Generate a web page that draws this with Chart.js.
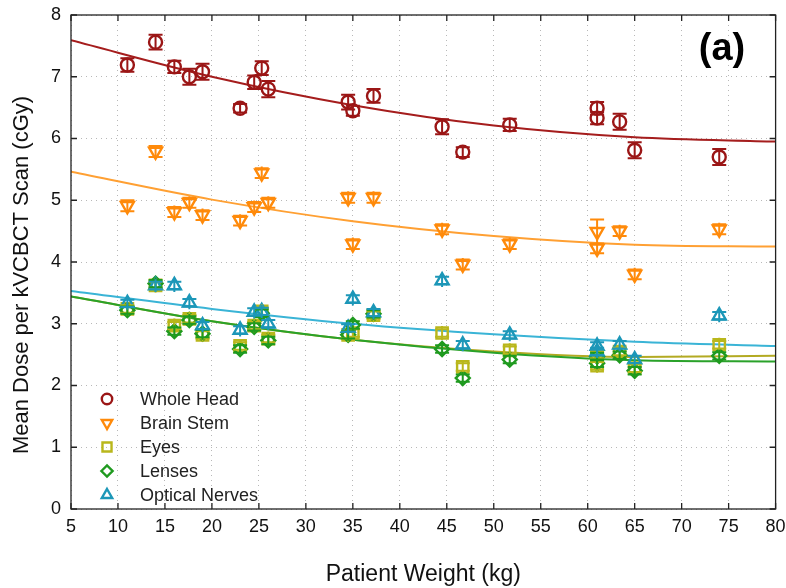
<!DOCTYPE html>
<html>
<head>
<meta charset="utf-8">
<script src="https://cdn.jsdelivr.net/npm/chart.js@4.4.1/dist/chart.umd.min.js"></script>
<style>
  html, body { margin: 0; padding: 0; background: #fff; }
  #wrap { width: 786px; height: 588px; }
</style>
</head>
<body>
<div id="wrap"><canvas id="myChart" width="786" height="588"></canvas></div>
<script>
// patient weights (kg), one per scan
const weights = [11, 14, 16, 17.6, 19, 23, 24.5, 25.3, 26, 34.5, 35, 37.2, 44.5, 46.7, 51.7, 61, 61, 63.4, 65, 74];

// mean dose per scan (cGy)
const wholeHead = [7.19, 7.56, 7.16, 7.00, 7.08, 6.49, 6.91, 7.14, 6.80, 6.59, 6.45, 6.69, 6.19, 5.78, 6.22, 6.49, 6.33, 6.27, 5.81, 5.70];
const brainStem = [4.91, 5.79, 4.81, 4.96, 4.76, 4.67, 4.89, 5.44, 4.96, 5.04, 4.29, 5.04, 4.53, 3.96, 4.29, 4.49, 4.22, 4.50, 3.80, 4.53];
const eyes = [3.24, 3.62, 2.97, 3.08, 2.82, 2.64, 2.97, 3.20, 2.76, 2.82, 2.85, 3.14, 2.85, 2.30, 2.57, 2.50, 2.32, 2.55, 2.28, 2.66];
const lenses = [3.22, 3.65, 2.88, 3.06, 2.84, 2.59, 2.95, 3.17, 2.73, 2.82, 2.98, 3.16, 2.59, 2.12, 2.42, 2.47, 2.36, 2.49, 2.24, 2.48];
const opticalNerves = [3.33, 3.62, 3.62, 3.34, 2.97, 2.90, 3.19, 3.20, 3.00, 2.93, 3.40, 3.18, 3.70, 2.66, 2.82, 2.64, 2.55, 2.66, 2.42, 3.13];

// error bar half-heights
const wholeHeadErr = [0.11, 0.12, 0.10, 0.13, 0.13, 0.07, 0.11, 0.11, 0.13, 0.12, 0.08, 0.11, 0.12, 0.08, 0.10, 0.10, 0.10, 0.13, 0.13, 0.13];
const brainStemErr = [0.09, 0.09, 0.08, 0.08, 0.08, 0.08, 0.08, 0.08, 0.08, 0.08, 0.08, 0.08, 0.08, 0.08, 0.08, 0.20, 0.08, 0.08, 0.08, 0.08];
const eyesErr = [0.06, 0.06, 0.06, 0.06, 0.06, 0.06, 0.06, 0.06, 0.06, 0.06, 0.06, 0.06, 0.06, 0.06, 0.06, 0.06, 0.06, 0.06, 0.06, 0.06];
const lensesErr = [0.06, 0.06, 0.06, 0.06, 0.06, 0.06, 0.06, 0.06, 0.06, 0.06, 0.06, 0.06, 0.06, 0.06, 0.06, 0.06, 0.06, 0.06, 0.06, 0.06];
const opticalErr = [0.06, 0.06, 0.06, 0.06, 0.06, 0.06, 0.06, 0.06, 0.06, 0.06, 0.06, 0.06, 0.06, 0.06, 0.06, 0.06, 0.06, 0.06, 0.06, 0.06];

// trend curves
const fitX = [5, 20, 35, 50, 65, 80];
const wholeHeadFit = [7.59, 7.00, 6.54, 6.21, 6.02, 5.95];
const brainStemFit = [5.46, 5.01, 4.66, 4.42, 4.28, 4.25];
const eyesFit = [3.44, 3.04, 2.74, 2.55, 2.46, 2.48];
const lensesFit = [3.44, 3.04, 2.74, 2.53, 2.41, 2.39];
const opticalFit = [3.53, 3.24, 3.00, 2.83, 2.71, 2.64];

const xTicks = [5, 10, 15, 20, 25, 30, 35, 40, 45, 50, 55, 60, 65, 70, 75, 80];
const yTicks = [0, 1, 2, 3, 4, 5, 6, 7, 8];

const series = [
  { label: "Whole Head", values: wholeHead, err: wholeHeadErr, fit: wholeHeadFit, color: "#9b1616", line: "#a51d1d", style: "circle", rot: 0, r: 6.5 },
  { label: "Brain Stem", values: brainStem, err: brainStemErr, fit: brainStemFit, color: "#ff8a0a", line: "#ffa033", style: "triangle", rot: 180, r: 7.5 },
  { label: "Eyes", values: eyes, err: eyesErr, fit: eyesFit, color: "#b9b71c", line: "#b3aa22", style: "rect", rot: 0, r: 8 },
  { label: "Lenses", values: lenses, err: lensesErr, fit: lensesFit, color: "#1f9a1f", line: "#2aa22a", style: "rectRot", rot: 0, r: 7 },
  { label: "Optical Nerves", values: opticalNerves, err: opticalErr, fit: opticalFit, color: "#1c97b8", line: "#3ab4d6", style: "triangle", rot: 0, r: 7.5 }
];

const datasets = [];
series.forEach((s, i) => {
  datasets.push({
    label: s.label,
    data: weights.map((w, j) => ({ x: w, y: s.values[j] })),
    errors: s.err,
    pointStyle: s.style,
    rotation: s.rot,
    pointRadius: s.r,
    pointHoverRadius: s.r,
    pointBorderWidth: 2.4,
    borderColor: s.color,
    backgroundColor: "rgba(0,0,0,0)",
    showLine: false,
    order: 10 - i
  });
});
series.forEach((s, i) => {
  datasets.push({
    label: s.label + " fit",
    data: fitX.map((w, j) => ({ x: w, y: s.fit[j] })),
    showLine: true,
    pointRadius: 0,
    borderColor: s.line,
    borderWidth: 2,
    cubicInterpolationMode: "monotone",
    fill: false,
    order: 20 - i
  });
});

// vertical error bars with caps
const errorBars = {
  id: "errorBars",
  afterDatasetsDraw(chart) {
    const { ctx, scales } = chart;
    chart.data.datasets.forEach((ds, i) => {
      if (!ds.errors) return;
      ctx.save();
      ctx.strokeStyle = ds.borderColor;
      ctx.lineWidth = 2;
      ds.data.forEach((p, j) => {
        const x = scales.x.getPixelForValue(p.x);
        const y1 = scales.y.getPixelForValue(p.y - ds.errors[j]);
        const y2 = scales.y.getPixelForValue(p.y + ds.errors[j]);
        const y0 = scales.y.getPixelForValue(p.y);
        ctx.beginPath();
        ctx.moveTo(x, y0 - ds.pointRadius + 1);
        ctx.lineTo(x, y0 + ds.pointRadius - 1);
        ctx.moveTo(x, y1); ctx.lineTo(x, y2);
        ctx.moveTo(x - 7, y1); ctx.lineTo(x + 7, y1);
        ctx.moveTo(x - 7, y2); ctx.lineTo(x + 7, y2);
        ctx.stroke();
      });
      ctx.restore();
    });
  }
};

// box, inner ticks, legend, titles
const decorations = {
  id: "decorations",
  afterDraw(chart) {
    const { ctx, chartArea: a, scales } = chart;
    ctx.save();
    ctx.strokeStyle = "#222";
    ctx.lineWidth = 1.3;
    ctx.strokeRect(a.left, a.top, a.right - a.left, a.bottom - a.top);
    ctx.beginPath();
    xTicks.forEach(t => {
      const x = scales.x.getPixelForValue(t);
      ctx.moveTo(x, a.bottom); ctx.lineTo(x, a.bottom - 6);
      ctx.moveTo(x, a.top); ctx.lineTo(x, a.top + 6);
    });
    yTicks.forEach(t => {
      const y = scales.y.getPixelForValue(t);
      ctx.moveTo(a.left, y); ctx.lineTo(a.left + 6, y);
      ctx.moveTo(a.right, y); ctx.lineTo(a.right - 6, y);
    });
    ctx.stroke();

    // legend
    ctx.font = "18px 'Liberation Sans', Arial, sans-serif";
    ctx.textBaseline = "middle";
    ctx.textAlign = "left";
    series.forEach((s, i) => {
      const y = a.bottom - 110 + i * 24;
      ctx.strokeStyle = s.color;
      ctx.fillStyle = "rgba(0,0,0,0)";
      ctx.lineWidth = 2.4;
      Chart.helpers.drawPoint(ctx, { pointStyle: s.style, rotation: s.rot, radius: s.r * 0.8, borderWidth: 2.4 }, a.left + 36, y);
      ctx.fillStyle = "#222";
      ctx.fillText(s.label, a.left + 69, y + 1);
    });

    // panel label
    ctx.font = "bold 38px 'Liberation Sans', Arial, sans-serif";
    ctx.textAlign = "center";
    ctx.fillStyle = "#000";
    ctx.fillText("(a)", 722, 50);

    // axis titles
    ctx.font = "23px 'Liberation Sans', Arial, sans-serif";
    ctx.fillStyle = "#111";
    ctx.fillText("Patient Weight (kg)", (a.left + a.right) / 2, 575);
    ctx.font = "22px 'Liberation Sans', Arial, sans-serif";
    ctx.translate(22, 275);
    ctx.rotate(-Math.PI / 2);
    ctx.fillText("Mean Dose per kVCBCT Scan (cGy)", 0, 0);
    ctx.restore();
  }
};

Chart.defaults.font.family = "'Liberation Sans', Arial, sans-serif";
Chart.defaults.color = "#111";

const ctx = document.getElementById("myChart").getContext("2d");
const myChart = new Chart(ctx, {
  type: "scatter",
  data: { datasets: datasets },
  options: {
    responsive: false,
    animation: false,
    layout: { padding: { top: 15, right: 7, left: 0, bottom: 0 } },
    plugins: { legend: { display: false }, tooltip: { enabled: false } },
    scales: {
      x: {
        type: "linear",
        min: 5,
        max: 80,
        afterBuildTicks: s => { s.ticks = xTicks.map(v => ({ value: v })); },
        afterFit: s => { s.height = 79; s.paddingLeft = 0; s.paddingRight = 0; },
        ticks: { font: { size: 18 }, padding: 7, maxRotation: 0, autoSkip: false },
        grid: { color: "#b8b8b8", lineWidth: 1, drawTicks: false },
        border: { display: false, dash: [1, 4] }
      },
      y: {
        type: "linear",
        min: 0,
        max: 8,
        afterBuildTicks: s => { s.ticks = yTicks.map(v => ({ value: v })); },
        afterFit: s => { s.width = 71; s.paddingTop = 0; s.paddingBottom = 0; },
        ticks: { font: { size: 18 }, padding: 10 },
        grid: { color: "#b8b8b8", lineWidth: 1, drawTicks: false },
        border: { display: false, dash: [1, 4] }
      }
    }
  },
  plugins: [errorBars, decorations]
});
</script>
</body>
</html>
